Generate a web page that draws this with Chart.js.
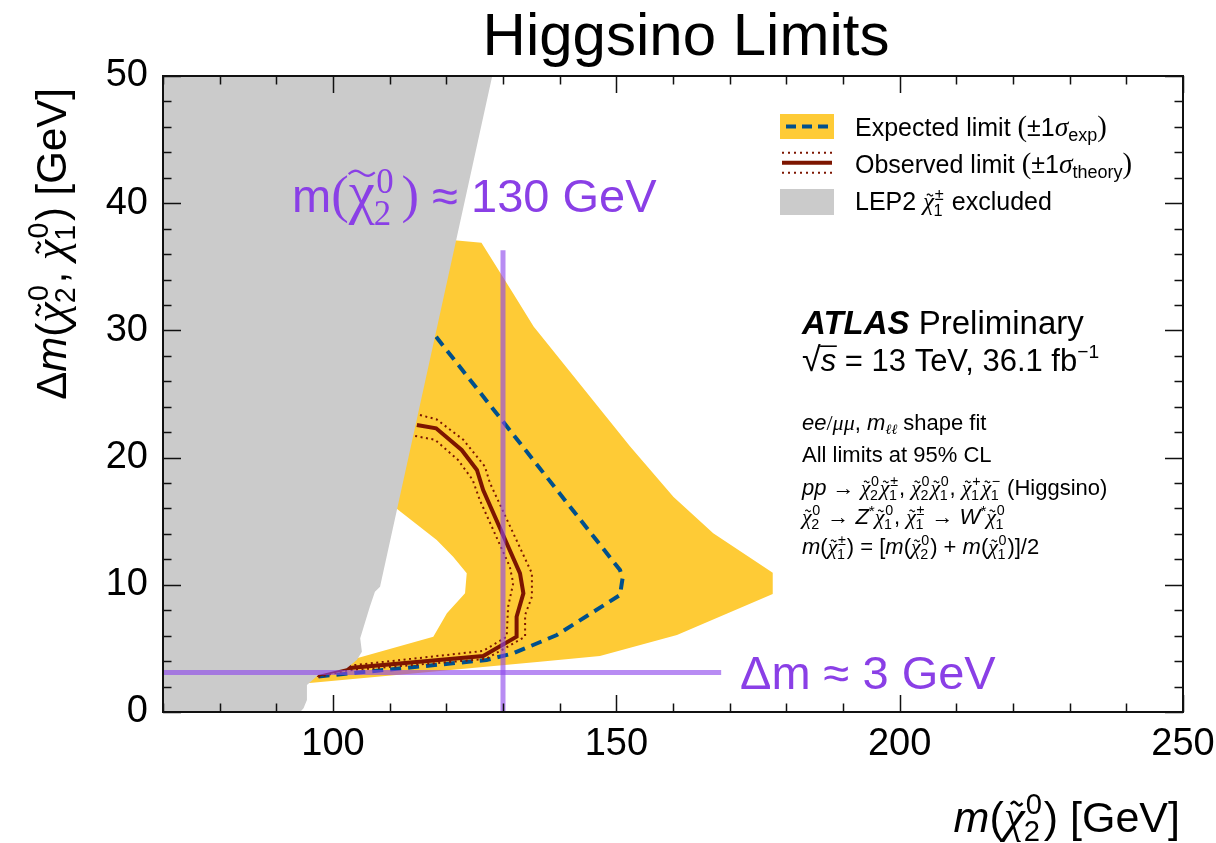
<!DOCTYPE html>
<html>
<head>
<meta charset="utf-8">
<title>Higgsino Limits</title>
<script src="https://cdn.jsdelivr.net/npm/chart.js@4.4.1/dist/chart.umd.min.js"></script>
<style>
html,body{margin:0;padding:0;background:#fff}
</style>
</head>
<body>
<canvas id="myChart" width="1216" height="843"></canvas>
<script>
// tick labels
var xTicks=[100,150,200,250]
var yStep=10

// LEP2 chargino exclusion (grey area)
var lepX=[70,128.1,108.3,107.4,106.5,104.8,105.1,104.2,102.4,97.4,95.4,95.4,94.8,94.2,70,70]
var lepY=[50,50,9.85,9.46,8.28,5.79,4.74,4.09,3.44,2.91,2.12,0.94,0.29,0,0,50]

// expected limit +-1 sigma band (yellow), runs under the grey area on its left side
var bandX=[120,126.2,131.8,135.4,152.4,160.1,167.1,177.6,177.6,160.7,147.1,136.5,95.4,94,100,104.2,117.7,120.1,123.3,123.6,121.2,118.3,111.2,105,110,120]
var bandY=[37.15,36.9,32.9,30.3,20.9,16.9,14.05,10.95,9.28,6.05,4.4,3.95,2.26,2.2,4.0,4.22,5.92,7.76,9.33,10.9,12.21,13.52,16.0,17,30,37.15]

// expected limit
var expX=[118.2,150.65,151.1,150.65,139.5,131.8,127.1,97.1]
var expY=[29.5,11.16,10.51,9.2,6.05,4.61,4.09,2.78]

// observed limit and its theory variations
var obsX=[114.8,118.2,122.7,125.4,126.5,133.0,133.6,132.4,132.4,126.5,102.4,97.1]
var obsY=[22.56,22.3,20.6,19.03,17.45,10.9,9.33,7.49,5.92,4.4,3.44,2.91]
var obsUpX=[115.35,118.3,123.0,126.8,127.7,135.1,135.1,133.9,133.9,127.0,102.4,97.4]
var obsUpY=[23.35,23.0,21.4,19.3,18.0,10.9,9.06,7.63,5.92,4.17,3.26,2.75]
var obsDnX=[114.5,118.0,122.1,124.65,125.9,131.2,131.8,130.9,130.65,126.5,102.4,97.4]
var obsDnY=[21.7,21.4,19.8,18.24,16.67,11.42,10.12,8.28,5.92,4.8,3.62,3.07]

// guide lines
var massLineX=[130,130]
var massLineY=[0,36.3]
var dmLineX=[70,168.5]
var dmLineY=[3.1,3.1]

var SANS='"Liberation Sans", Arial, Helvetica, sans-serif'
var SERIF='"Liberation Serif", "DejaVu Serif", serif'
var YELLOW='#fecb36'
var GREY='#cbcbcb'
var BLUE='#00508c'
var RED='#7d1500'
var PURPLE='#8a3fe6'
var GUIDE='rgba(140,70,235,0.62)'

function pts(xs,ys){
    var out=[]
    for(var i=0;i<xs.length;i++) out.push({x:xs[i],y:ys[i]})
    return out
}

function setFont(ctx,size,style,fam){
    ctx.font=(style?style+' ':'')+size.toFixed(1)+'px '+(fam||SANS)
}

function chiFont(ctx,p,size){
    setFont(ctx,size*(p.k||1),p.st!==undefined?p.st:'italic',SERIF)
}

// width of one piece of rich text
function pieceWidth(ctx,p,size){
    if(p.chi){
        chiFont(ctx,p,size)
        var w=ctx.measureText('\u03c7').width
        setFont(ctx,size*(p.ik||0.65),'',p.fam||SANS)
        var w2=Math.max(ctx.measureText(p.sup||'').width,ctx.measureText(p.sub||'').width)
        return w+w2+size*(p.gap||0.07)
    }
    setFont(ctx,size*(p.k||1),p.st,p.fam)
    return ctx.measureText(p.t).width
}

function drawTilde(ctx,cx,cy,w,a,lw){
    ctx.beginPath()
    for(var i=0;i<=16;i++){
        var t=i/16
        var px=cx-w/2+w*t
        var py=cy-a*Math.sin(2*Math.PI*t)+a*0.6*(0.5-t)
        if(i==0) ctx.moveTo(px,py); else ctx.lineTo(px,py)
    }
    ctx.lineWidth=lw
    ctx.stroke()
}

// text made of pieces: plain/italic runs, sub/superscripts and tilde-chi with stacked indices
function drawRich(ctx,x,y,parts,size,align,color){
    var total=0
    parts.forEach(function(p){ total+=pieceWidth(ctx,p,size) })
    if(align=='center') x-=total/2
    if(align=='right') x-=total
    ctx.fillStyle=color
    ctx.strokeStyle=color
    ctx.textAlign='left'
    ctx.textBaseline='alphabetic'
    parts.forEach(function(p){
        var w=pieceWidth(ctx,p,size)
        if(p.chi){
            chiFont(ctx,p,size)
            var cs=size*(p.k||1)
            var cw=ctx.measureText('\u03c7').width
            ctx.fillText('\u03c7',x,y)
            if(p.wide) drawTilde(ctx,x+cw*0.5,y-cs*0.66,cw*1.0,cs*0.05,cs*0.04)
            else drawTilde(ctx,x+cw*0.62,y-cs*0.6,cw*0.55,cs*0.045,cs*0.05)
            setFont(ctx,size*(p.ik||0.65),'',p.fam||SANS)
            var sx=x+cw+size*0.03
            if(p.sup) ctx.fillText(p.sup,sx,y-size*(p.supY||0.42))
            if(p.sub) ctx.fillText(p.sub,sx-size*0.05,y+size*(p.subY||0.22))
        }else{
            setFont(ctx,size*(p.k||1),p.st,p.fam)
            ctx.fillText(p.t,x,y-(p.rise||0)*size)
            if(p.over){
                ctx.beginPath()
                ctx.moveTo(x-size*0.02,y-size*0.8)
                ctx.lineTo(x+w+size*0.02,y-size*0.8)
                ctx.lineWidth=size*0.05
                ctx.stroke()
            }
        }
        x+=w
    })
}

function hline(ctx,x0,x1,y,w,color,dash){
    ctx.save()
    ctx.beginPath()
    ctx.setLineDash(dash||[])
    ctx.moveTo(x0,y)
    ctx.lineTo(x1,y)
    ctx.lineWidth=w
    ctx.strokeStyle=color
    ctx.stroke()
    ctx.restore()
}

var decor={
    id:'decor',
    afterDraw:function(chart){
        var ctx=chart.ctx
        var a=chart.chartArea
        var sx=chart.scales.x
        var sy=chart.scales.y
        ctx.save()

        // frame with inward ticks on all sides
        ctx.strokeStyle='#111'
        ctx.lineWidth=2
        ctx.strokeRect(a.left,a.top,a.right-a.left,a.bottom-a.top)
        ctx.lineWidth=1.5
        ctx.beginPath()
        for(var v=sx.min;v<=sx.max;v+=10){
            var px=Math.round(sx.getPixelForValue(v))+0.5
            var len=(v%50==0)?17:8.5
            ctx.moveTo(px,a.bottom); ctx.lineTo(px,a.bottom-len)
            ctx.moveTo(px,a.top); ctx.lineTo(px,a.top+len)
        }
        for(var u=sy.min;u<=sy.max;u+=2){
            var py=Math.round(sy.getPixelForValue(u))+0.5
            var ln=(u%10==0)?18:8.5
            ctx.moveTo(a.left,py); ctx.lineTo(a.left+ln,py)
            ctx.moveTo(a.right,py); ctx.lineTo(a.right-ln,py)
        }
        ctx.stroke()

        // title
        drawRich(ctx,686,55,[{t:'Higgsino Limits'}],60,'center','#000')

        // axis titles
        drawRich(ctx,1180,832,[{t:'m',st:'italic'},{t:'('},{chi:true,k:1.1,sup:'0',sub:'2',ik:0.68},{t:') [GeV]'}],43,'right','#000')
        ctx.save()
        ctx.translate(66,88)
        ctx.rotate(-Math.PI/2)
        drawRich(ctx,0,0,[{t:'\u0394'},{t:'m',st:'italic'},{t:'('},{chi:true,k:1.1,sup:'0',sub:'2',ik:0.68},{t:', '},{chi:true,k:1.1,sup:'0',sub:'1',ik:0.68},{t:') [GeV]'}],42,'right','#000')
        ctx.restore()

        // legend
        ctx.fillStyle=YELLOW
        ctx.fillRect(780,114,54,25)
        hline(ctx,786,832,126.5,4,BLUE,[10,6])
        hline(ctx,782,832,162.7,4,RED)
        hline(ctx,782,832,152.7,2,RED,[2,4])
        hline(ctx,782,832,172.7,2,RED,[2,4])
        ctx.fillStyle=GREY
        ctx.fillRect(780,189,54,26)
        var ls=25
        drawRich(ctx,855,136,[{t:'Expected limit '},{t:'(',fam:SERIF,k:1.15},{t:'\u00b11'},{t:'\u03c3',st:'italic',fam:SERIF,k:1.1},{t:'exp',k:0.72,rise:-0.2},{t:')',fam:SERIF,k:1.15}],ls,'left','#000')
        drawRich(ctx,855,173,[{t:'Observed limit '},{t:'(',fam:SERIF,k:1.15},{t:'\u00b11'},{t:'\u03c3',st:'italic',fam:SERIF,k:1.1},{t:'theory',k:0.72,rise:-0.2},{t:')',fam:SERIF,k:1.15}],ls,'left','#000')
        drawRich(ctx,855,210,[{t:'LEP2 '},{chi:true,sup:'\u00b1',sub:'1'},{t:' excluded'}],ls,'left','#000')

        // experiment label
        drawRich(ctx,802,334,[{t:'ATLAS',st:'bold italic'},{t:' Preliminary'}],33,'left','#000')
        drawRich(ctx,802,371,[{t:'\u221a',k:1.1},{t:'s',st:'italic',over:true},{t:' = 13 TeV, 36.1 fb'},{t:'\u22121',k:0.62,rise:0.42}],31,'left','#000')
        var ss=22
        drawRich(ctx,802,430,[{t:'ee',st:'italic'},{t:'/',fam:SERIF},{t:'\u03bc\u03bc',st:'italic',fam:SERIF},{t:', '},{t:'m',st:'italic'},{t:'\u2113\u2113',st:'italic',fam:SERIF,k:0.65,rise:-0.18},{t:' shape fit'}],ss,'left','#000')
        drawRich(ctx,802,462,[{t:'All limits at 95% CL'}],ss,'left','#000')
        drawRich(ctx,802,495,[{t:'pp',st:'italic'},{t:' \u2192 '},{chi:true,sup:'0',sub:'2'},{chi:true,sup:'\u00b1',sub:'1'},{t:', '},{chi:true,sup:'0',sub:'2'},{chi:true,sup:'0',sub:'1'},{t:', '},{chi:true,sup:'+',sub:'1'},{chi:true,sup:'\u2212',sub:'1'},{t:' (Higgsino)'}],ss,'left','#000')
        drawRich(ctx,802,524,[{chi:true,sup:'0',sub:'2'},{t:' \u2192 '},{t:'Z',st:'italic'},{t:'*',k:0.7,rise:0.35},{chi:true,sup:'0',sub:'1'},{t:', '},{chi:true,sup:'\u00b1',sub:'1'},{t:' \u2192 '},{t:'W',st:'italic'},{t:'*',k:0.7,rise:0.35},{chi:true,sup:'0',sub:'1'}],ss,'left','#000')
        drawRich(ctx,802,554,[{t:'m',st:'italic'},{t:'('},{chi:true,sup:'\u00b1',sub:'1'},{t:') = ['},{t:'m',st:'italic'},{t:'('},{chi:true,sup:'0',sub:'2'},{t:') + '},{t:'m',st:'italic'},{t:'('},{chi:true,sup:'0',sub:'1'},{t:')]/2'}],ss,'left','#000')

        // guide labels
        drawRich(ctx,292,212,[{t:'m'},{t:'(',fam:SERIF,k:1.12},{chi:true,wide:true,st:'',k:1.25,ik:0.74,supY:0.4,subY:0.28,gap:0.2,sup:'0',sub:'2',fam:SERIF},{t:')',fam:SERIF,k:1.12},{t:' \u2248 130 GeV'}],47,'left',PURPLE)
        drawRich(ctx,740,689,[{t:'\u0394m \u2248 3 GeV'}],47,'left',PURPLE)

        ctx.restore()
    }
}

var tickFont={family:SANS,size:38}

var myChart=document.getElementById('myChart').getContext('2d')
var chart=new Chart(myChart,{
    type:'line',
    data:{
        datasets:[
            {label:'m(chi2) guide',data:pts(massLineX,massLineY),borderColor:GUIDE,borderWidth:5,fill:false,order:0},
            {label:'dm guide',data:pts(dmLineX,dmLineY),borderColor:GUIDE,borderWidth:5,fill:false,order:0},
            {label:'LEP2 excluded',data:pts(lepX,lepY),borderColor:'rgba(0,0,0,0)',borderWidth:0,backgroundColor:GREY,fill:'shape',order:1},
            {label:'Observed limit',data:pts(obsX,obsY),borderColor:RED,borderWidth:4,fill:false,order:2},
            {label:'Observed +1 sigma',data:pts(obsUpX,obsUpY),borderColor:RED,borderWidth:2,borderDash:[2,3.5],fill:false,order:3},
            {label:'Observed -1 sigma',data:pts(obsDnX,obsDnY),borderColor:RED,borderWidth:2,borderDash:[2,3.5],fill:false,order:3},
            {label:'Expected limit',data:pts(expX,expY),borderColor:BLUE,borderWidth:4,borderDash:[11,7],fill:false,order:4},
            {label:'Expected band',data:pts(bandX,bandY),borderColor:'rgba(0,0,0,0)',borderWidth:0,backgroundColor:YELLOW,fill:'shape',order:5}
        ]
    },
    options:{
        responsive:false,
        animation:false,
        layout:{padding:{left:0,right:33,top:76,bottom:0}},
        elements:{point:{radius:0,hoverRadius:0},line:{tension:0}},
        plugins:{legend:{display:false},tooltip:{enabled:false},title:{display:false}},
        scales:{
            x:{
                type:'linear',min:70,max:250,
                afterBuildTicks:function(s){ s.ticks=xTicks.map(function(v){ return {value:v} }) },
                afterFit:function(s){ s.height=131; s.paddingLeft=0; s.paddingRight=0 },
                grid:{display:false,drawTicks:false},
                border:{display:false},
                ticks:{font:tickFont,color:'#000',padding:10,maxRotation:0,autoSkip:false}
            },
            y:{
                type:'linear',min:0,max:50,
                afterFit:function(s){ s.width=163 },
                grid:{display:false,drawTicks:false},
                border:{display:false},
                ticks:{stepSize:yStep,font:tickFont,color:'#000',padding:15}
            }
        }
    },
    plugins:[decor]
})
</script>
</body>
</html>
